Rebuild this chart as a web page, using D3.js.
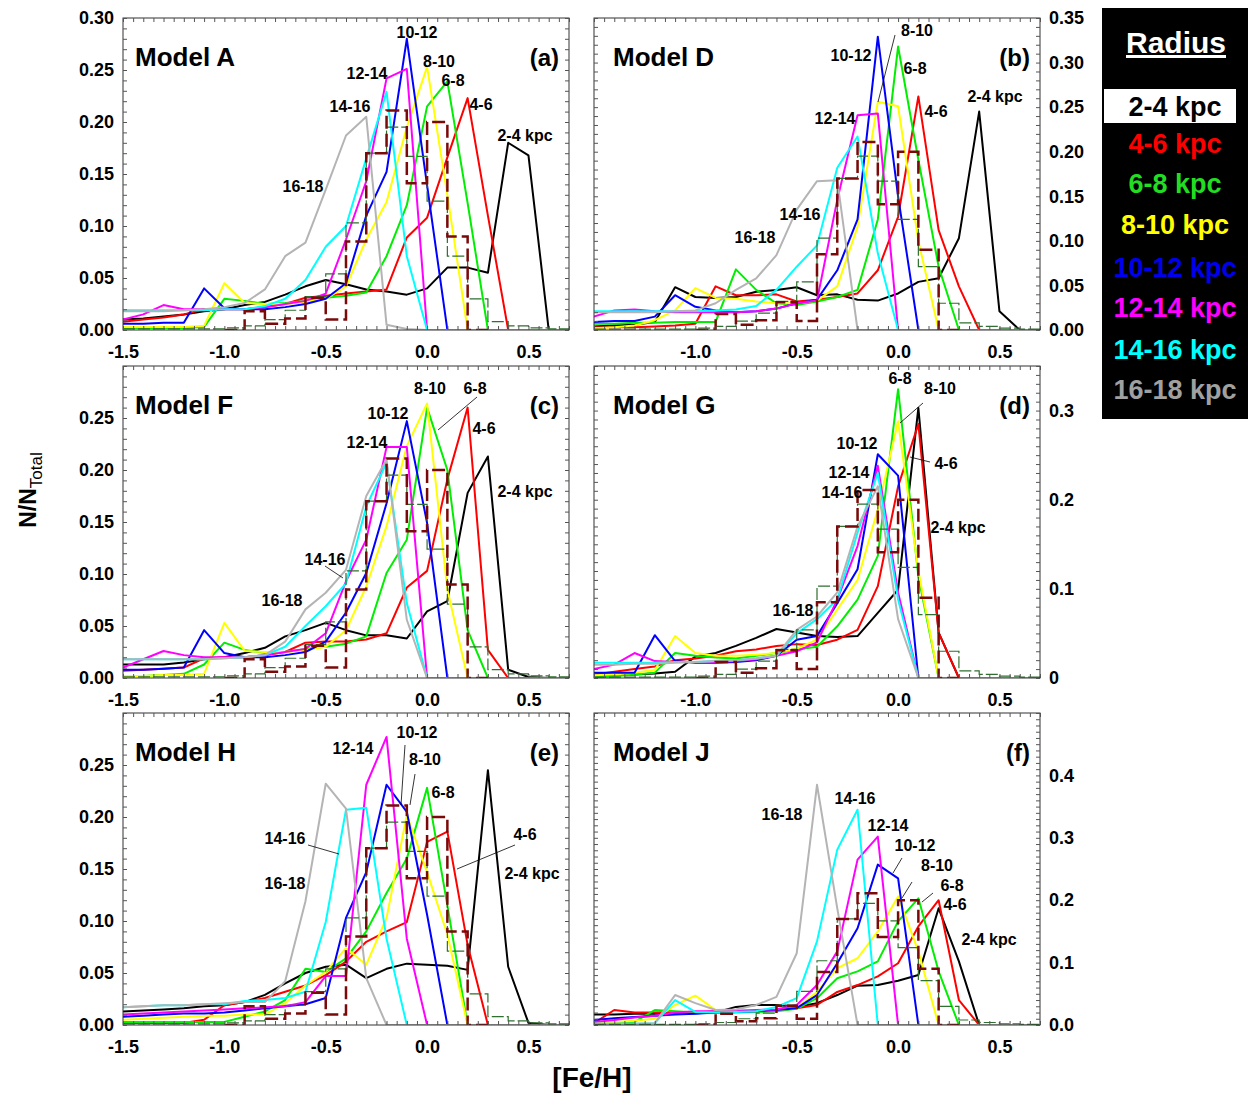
<!DOCTYPE html>
<html>
<head>
<meta charset="utf-8">
<script src="https://cdn.jsdelivr.net/npm/d3@7"></script>
<style>
  body { margin: 0; background: #fff; }
  text { font-family: "Liberation Sans", Arial, sans-serif; font-weight: bold; }
</style>
</head>
<body>
<svg id="chart" width="1249" height="1098"></svg>
<script>
// [Fe/H] grid of the model curves
var feh = [-1.5,-1.4,-1.3,-1.2,-1.1,-1.0,-0.9,-0.8,-0.7,-0.6,-0.5,-0.4,-0.3,-0.2,-0.1,0.0,0.1,0.2,0.3,0.4,0.5,0.6,0.7];
var radii = ["2-4 kpc","4-6 kpc","6-8 kpc","8-10 kpc","10-12 kpc","12-14 kpc","14-16 kpc","16-18 kpc"];
var colors = ["#000000","#ff0000","#00ee00","#ffff00","#0000ff","#ff00ff","#00ffff","#b4b4b4"];

// one row per radius bin, same order as radii
var modelA = [
  [0.010,0.011,0.013,0.015,0.018,0.020,0.024,0.027,0.034,0.042,0.048,0.044,0.039,0.037,0.034,0.040,0.060,0.060,0.055,0.180,0.168,0,0],
  [0.008,0.010,0.012,0.015,0.020,0.020,0.020,0.022,0.025,0.031,0.033,0.035,0.037,0.039,0.089,0.108,0.166,0.223,0.110,0,0,0,0],
  [0.002,0.002,0.002,0.002,0.003,0.030,0.028,0.025,0.026,0.028,0.031,0.033,0.036,0.071,0.120,0.215,0.239,0.122,0,0,0,0,0],
  [0.003,0.003,0.003,0.003,0.004,0.045,0.026,0.025,0.025,0.027,0.030,0.042,0.087,0.123,0.195,0.253,0.130,0,0,0,0,0,0],
  [0.006,0.006,0.007,0.007,0.040,0.021,0.020,0.020,0.022,0.025,0.030,0.045,0.110,0.152,0.280,0.139,0,0,0,0,0,0,0],
  [0.010,0.015,0.024,0.020,0.020,0.020,0.020,0.022,0.025,0.028,0.035,0.087,0.143,0.242,0.251,0,0,0,0,0,0,0,0],
  [0.019,0.019,0.019,0.019,0.019,0.020,0.020,0.023,0.030,0.048,0.080,0.100,0.165,0.229,0.071,0,0,0,0,0,0,0,0],
  [0.018,0.018,0.018,0.019,0.020,0.022,0.026,0.039,0.071,0.084,0.135,0.187,0.205,0.005,0.001,0,0,0,0,0,0,0,0]
];
var modelD = [
  [0.004,0.005,0.006,0.009,0.048,0.037,0.036,0.037,0.043,0.045,0.048,0.039,0.040,0.034,0.033,0.041,0.054,0.058,0.103,0.245,0.021,0,0],
  [0.003,0.003,0.003,0.004,0.005,0.007,0.049,0.039,0.039,0.040,0.032,0.034,0.037,0.041,0.067,0.127,0.262,0.112,0.049,0,0,0,0],
  [0.007,0.007,0.008,0.008,0.009,0.009,0.009,0.068,0.045,0.030,0.028,0.032,0.037,0.045,0.124,0.318,0.191,0.071,0,0,0,0,0],
  [0.002,0.003,0.005,0.011,0.022,0.047,0.036,0.035,0.032,0.030,0.030,0.033,0.049,0.116,0.256,0.251,0.100,0,0,0,0,0,0],
  [0.009,0.010,0.010,0.015,0.039,0.026,0.022,0.020,0.021,0.024,0.030,0.034,0.067,0.124,0.329,0.150,0,0,0,0,0,0,0],
  [0.015,0.022,0.023,0.021,0.020,0.020,0.020,0.020,0.021,0.024,0.030,0.033,0.146,0.241,0.243,0,0,0,0,0,0,0,0],
  [0.021,0.021,0.021,0.021,0.021,0.021,0.022,0.023,0.027,0.045,0.071,0.095,0.182,0.217,0.086,0,0,0,0,0,0,0,0],
  [0.020,0.020,0.020,0.020,0.021,0.022,0.030,0.045,0.058,0.084,0.135,0.167,0.168,0,0,0,0,0,0,0,0,0,0]
];
var modelF = [
  [0.013,0.013,0.013,0.015,0.018,0.020,0.024,0.029,0.040,0.046,0.053,0.046,0.041,0.041,0.038,0.064,0.074,0.178,0.213,0.008,0.001,0,0],
  [0.007,0.008,0.009,0.010,0.019,0.020,0.020,0.022,0.025,0.034,0.035,0.035,0.037,0.043,0.087,0.103,0.191,0.260,0.027,0,0,0,0],
  [0.002,0.002,0.003,0.004,0.013,0.034,0.027,0.024,0.025,0.028,0.030,0.033,0.040,0.101,0.133,0.260,0.200,0.046,0,0,0,0,0],
  [0.002,0.002,0.003,0.003,0.004,0.053,0.026,0.025,0.025,0.027,0.030,0.046,0.088,0.146,0.223,0.264,0.085,0,0,0,0,0,0],
  [0.008,0.008,0.009,0.010,0.046,0.024,0.020,0.020,0.022,0.025,0.035,0.063,0.101,0.168,0.247,0.149,0,0,0,0,0,0,0],
  [0.010,0.018,0.026,0.022,0.020,0.020,0.020,0.022,0.025,0.028,0.043,0.093,0.133,0.222,0.222,0,0,0,0,0,0,0,0],
  [0.018,0.018,0.018,0.018,0.018,0.019,0.020,0.022,0.030,0.050,0.069,0.091,0.165,0.207,0.072,0,0,0,0,0,0,0,0],
  [0.018,0.018,0.018,0.018,0.018,0.019,0.020,0.022,0.035,0.066,0.082,0.104,0.175,0.210,0.056,0,0,0,0,0,0,0,0]
];
var modelG = [
  [0.002,0.003,0.004,0.005,0.007,0.024,0.028,0.036,0.045,0.055,0.051,0.047,0.046,0.047,0.073,0.099,0.303,0.051,0,0,0,0,0],
  [0.004,0.007,0.010,0.013,0.020,0.022,0.025,0.030,0.032,0.036,0.038,0.037,0.043,0.054,0.103,0.215,0.285,0.051,0,0,0,0,0],
  [0.001,0.002,0.004,0.006,0.028,0.025,0.023,0.022,0.025,0.028,0.032,0.035,0.058,0.088,0.137,0.324,0.114,0,0,0,0,0,0],
  [0.003,0.004,0.006,0.009,0.047,0.028,0.025,0.025,0.026,0.028,0.033,0.043,0.077,0.110,0.189,0.288,0.120,0,0,0,0,0,0],
  [0.006,0.006,0.006,0.048,0.019,0.017,0.017,0.018,0.020,0.025,0.043,0.047,0.084,0.122,0.251,0.227,0,0,0,0,0,0,0],
  [0.010,0.015,0.028,0.019,0.018,0.018,0.018,0.019,0.021,0.025,0.030,0.040,0.088,0.148,0.238,0.096,0,0,0,0,0,0,0],
  [0.017,0.017,0.017,0.017,0.018,0.018,0.019,0.020,0.022,0.025,0.050,0.066,0.088,0.163,0.230,0.088,0,0,0,0,0,0,0],
  [0.015,0.015,0.016,0.016,0.017,0.018,0.019,0.020,0.022,0.025,0.054,0.069,0.096,0.170,0.215,0.066,0,0,0,0,0,0,0]
];
var modelH = [
  [0.013,0.014,0.015,0.016,0.018,0.019,0.022,0.029,0.040,0.050,0.056,0.058,0.045,0.054,0.059,0.058,0.057,0.053,0.245,0.056,0.002,0,0],
  [0.002,0.002,0.002,0.002,0.005,0.019,0.022,0.026,0.032,0.038,0.048,0.061,0.080,0.090,0.099,0.176,0.186,0.077,0,0,0,0,0],
  [0.003,0.003,0.003,0.003,0.003,0.003,0.008,0.013,0.024,0.054,0.051,0.064,0.090,0.127,0.160,0.228,0.115,0,0,0,0,0,0],
  [0.005,0.006,0.007,0.008,0.009,0.009,0.010,0.010,0.021,0.038,0.051,0.074,0.058,0.103,0.202,0.147,0.087,0,0,0,0,0,0],
  [0.008,0.009,0.010,0.011,0.011,0.012,0.014,0.016,0.018,0.020,0.026,0.103,0.147,0.231,0.205,0.106,0,0,0,0,0,0,0],
  [0.010,0.011,0.012,0.013,0.014,0.015,0.016,0.017,0.018,0.022,0.047,0.047,0.231,0.277,0.083,0,0,0,0,0,0,0,0],
  [0.017,0.018,0.019,0.019,0.020,0.020,0.023,0.024,0.026,0.032,0.099,0.207,0.209,0.083,0,0,0,0,0,0,0,0,0],
  [0.017,0.018,0.019,0.019,0.020,0.021,0.022,0.022,0.042,0.119,0.232,0.208,0.045,0,0,0,0,0,0,0,0,0,0]
];
var modelJ = [
  [0.017,0.017,0.018,0.018,0.019,0.019,0.020,0.029,0.032,0.032,0.029,0.035,0.048,0.063,0.064,0.071,0.080,0.187,0.102,0,0,0,0],
  [0.003,0.024,0.020,0.020,0.021,0.020,0.022,0.022,0.023,0.024,0.027,0.032,0.053,0.064,0.078,0.099,0.158,0.200,0.040,0,0,0,0],
  [0.003,0.004,0.005,0.024,0.022,0.020,0.020,0.020,0.021,0.022,0.026,0.043,0.075,0.086,0.102,0.166,0.203,0.086,0,0,0,0,0],
  [0.003,0.005,0.007,0.010,0.032,0.047,0.024,0.022,0.022,0.024,0.027,0.053,0.091,0.107,0.150,0.206,0.118,0,0,0,0,0,0],
  [0.008,0.011,0.013,0.015,0.017,0.018,0.020,0.021,0.022,0.024,0.027,0.048,0.099,0.155,0.257,0.235,0,0,0,0,0,0,0],
  [0.005,0.008,0.012,0.015,0.020,0.022,0.022,0.023,0.024,0.025,0.032,0.064,0.118,0.265,0.302,0,0,0,0,0,0,0,0],
  [0.002,0.002,0.002,0.003,0.040,0.021,0.020,0.021,0.022,0.029,0.043,0.134,0.281,0.345,0,0,0,0,0,0,0,0,0],
  [0.002,0.002,0.002,0.003,0.048,0.035,0.024,0.025,0.032,0.045,0.115,0.385,0.187,0,0,0,0,0,0,0,0,0,0]
];

// observed histograms (lower bin edges, width 0.1)
var obsEdgesA = [-1.0,-0.9,-0.8,-0.7,-0.6,-0.5,-0.4,-0.3,-0.2,-0.1,0.0,0.1,0.2];
var obsValsA  = [0,0.018,0.006,0.011,0.031,0.010,0.085,0.170,0.211,0.141,0.200,0.090,0];
var obsEdgesB = [-1.5,-1.4,-1.3,-1.2,-1.1,-1.0,-0.9,-0.8,-0.7,-0.6,-0.5,-0.4,-0.3,-0.2,-0.1,0.0,0.1,0.2,0.3,0.4,0.5,0.6];
var obsValsB  = [0.001,0.001,0.001,0.001,0.001,0.002,0.004,0.010,0.019,0.032,0.054,0.103,0.170,0.195,0.167,0.124,0.071,0.030,0.008,0.004,0.002,0.001];

// axis ticks
var xTicksFull = [-1.5,-1.0,-0.5,0.0,0.5];
var xTicksShort = [-1.0,-0.5,0.0,0.5];
var yTicks30 = [0,0.05,0.10,0.15,0.20,0.25,0.30];
var yTicks25 = [0,0.05,0.10,0.15,0.20,0.25];
var yTicks35 = [0,0.05,0.10,0.15,0.20,0.25,0.30,0.35];
var yTicksG = [0,0.1,0.2,0.3], yLabelsG = ["0","0.1","0.2","0.3"];
var yTicksJ = [0,0.1,0.2,0.3,0.4], yLabelsJ = ["0.0","0.1","0.2","0.3","0.4"];

var f2 = function(d){ return d.toFixed(2); };
var panels = [
  {data: modelA, title: "Model A", tag: "(a)", left: 123, top: 18, ymax: 0.30, side: "left",
   yt: yTicks30, yl: yTicks30.map(f2), xt: xTicksFull,
   labels: [["10-12",417,32],["12-14",367,73],["8-10",439,61],["6-8",453,80],["14-16",350,106],["4-6",481,104],["2-4 kpc",525,135],["16-18",303,186]],
   leaders: []},
  {data: modelD, title: "Model D", tag: "(b)", left: 594, top: 18, ymax: 0.35, side: "right",
   yt: yTicks35, yl: yTicks35.map(f2), xt: xTicksShort,
   labels: [["8-10",917,30],["10-12",851,55],["6-8",915,68],["2-4 kpc",995,96],["4-6",936,111],["12-14",835,118],["14-16",800,214],["16-18",755,237]],
   leaders: [[895,35,878,102]]},
  {data: modelF, title: "Model F", tag: "(c)", left: 123, top: 366, ymax: 0.30, side: "left",
   yt: yTicks25, yl: yTicks25.map(f2), xt: xTicksFull,
   labels: [["8-10",430,388],["6-8",475,388],["10-12",388,413],["4-6",484,428],["12-14",367,442],["2-4 kpc",525,491],["14-16",325,559],["16-18",282,600]],
   leaders: [[477,397,438,430],[325,566,343,578]]},
  {data: modelG, title: "Model G", tag: "(d)", left: 594, top: 366, ymax: 0.35, side: "right",
   yt: yTicksG, yl: yLabelsG, xt: xTicksShort,
   labels: [["6-8",900,378],["8-10",940,388],["10-12",857,443],["4-6",946,463],["12-14",849,472],["14-16",842,492],["2-4 kpc",958,527],["16-18",793,610]],
   leaders: [[923,403,900,423],[930,462,910,457]]},
  {data: modelH, title: "Model H", tag: "(e)", left: 123, top: 713, ymax: 0.30, side: "left",
   yt: yTicks25, yl: yTicks25.map(f2), xt: xTicksFull,
   labels: [["10-12",417,732],["12-14",353,748],["8-10",425,759],["6-8",443,792],["4-6",525,834],["14-16",285,838],["2-4 kpc",532,873],["16-18",285,883]],
   leaders: [[405,745,401,805],[415,774,410,805],[515,845,457,869],[308,845,339,854]]},
  {data: modelJ, title: "Model J", tag: "(f)", left: 594, top: 713, ymax: 0.50, side: "right",
   yt: yTicksJ, yl: yLabelsJ, xt: xTicksShort,
   labels: [["14-16",855,798],["16-18",782,814],["12-14",888,825],["10-12",915,845],["8-10",937,865],["6-8",952,885],["4-6",955,904],["2-4 kpc",989,939]],
   leaders: [[902,858,893,873],[912,882,902,898],[933,893,922,902]]}
];

var W = 446, H = 312;
var svg = d3.select("#chart");

panels.forEach(function(p, pi) {
  var x = d3.scaleLinear().domain([-1.5, 0.7]).range([p.left, p.left + W]);
  var y = d3.scaleLinear().domain([0, p.ymax]).range([p.top + H, p.top]);
  var g = svg.append("g");

  g.append("clipPath").attr("id", "clip" + pi)
    .append("rect").attr("x", p.left).attr("y", p.top).attr("width", W).attr("height", H);

  var plot = g.append("g").attr("clip-path", "url(#clip" + pi + ")");

  var line = d3.line().x(function(d, i){ return x(feh[i]); }).y(function(d){ return y(d); });
  p.data.forEach(function(vals, k) {
    plot.append("path").attr("d", line(vals))
      .attr("fill", "none").attr("stroke", colors[k]).attr("stroke-width", 2)
      .attr("stroke-linejoin", "round");
  });

  // histograms
  var step = d3.line().curve(d3.curveStepAfter)
    .x(function(d){ return x(d[0]); }).y(function(d){ return y(d[1]); });
  var ptsB = obsEdgesB.map(function(e, i){ return [e, obsValsB[i]]; });
  ptsB.push([obsEdgesB[obsEdgesB.length - 1] + 0.1, obsValsB[obsValsB.length - 1]]);
  plot.append("path").attr("d", step(ptsB)).attr("fill", "none")
    .attr("stroke", "#2f6f2f").attr("stroke-width", 1.2).attr("stroke-dasharray", "12,3");
  var ptsA = obsEdgesA.map(function(e, i){ return [e, obsValsA[i]]; });
  ptsA.push([obsEdgesA[obsEdgesA.length - 1] + 0.1, obsValsA[obsValsA.length - 1]]);
  plot.append("path").attr("d", step(ptsA)).attr("fill", "none")
    .attr("stroke", "#7a0a0a").attr("stroke-width", 2.5).attr("stroke-dasharray", "13,5");

  // frame
  g.append("rect").attr("x", p.left).attr("y", p.top).attr("width", W).attr("height", H)
    .attr("fill", "none").attr("stroke", "#333").attr("stroke-width", 1);

  // minor ticks, pointing inward
  var xm = d3.range(-1.5, 0.7001, 0.05);
  var ym = d3.range(0, p.ymax + 0.0001, 0.01);
  g.append("g").attr("transform", "translate(0," + (p.top + H) + ")")
    .call(d3.axisBottom(x).tickValues(xm).tickSize(-4).tickFormat(""))
    .call(function(a){ a.select(".domain").remove(); a.selectAll("line").attr("stroke", "#555"); });
  g.append("g").attr("transform", "translate(0," + p.top + ")")
    .call(d3.axisTop(x).tickValues(xm).tickSize(-4).tickFormat(""))
    .call(function(a){ a.select(".domain").remove(); a.selectAll("line").attr("stroke", "#555"); });
  g.append("g").attr("transform", "translate(" + p.left + ",0)")
    .call(d3.axisLeft(y).tickValues(ym).tickSize(-4).tickFormat(""))
    .call(function(a){ a.select(".domain").remove(); a.selectAll("line").attr("stroke", "#555"); });
  g.append("g").attr("transform", "translate(" + (p.left + W) + ",0)")
    .call(d3.axisRight(y).tickValues(ym).tickSize(-4).tickFormat(""))
    .call(function(a){ a.select(".domain").remove(); a.selectAll("line").attr("stroke", "#555"); });

  // x tick labels
  g.append("g").attr("transform", "translate(0," + (p.top + H) + ")")
    .call(d3.axisBottom(x).tickValues(p.xt).tickSize(0).tickPadding(15)
      .tickFormat(function(d){ return d.toFixed(1); }))
    .call(function(a){
      a.select(".domain").remove();
      a.selectAll("text").attr("font-size", 18).attr("fill", "#000")
        .attr("font-family", "'Liberation Sans', Arial, sans-serif").attr("font-weight", "bold");
    });

  // y tick labels
  var yAxis = (p.side === "left" ? d3.axisLeft(y) : d3.axisRight(y))
    .tickValues(p.yt).tickSize(0).tickPadding(9)
    .tickFormat(function(d, i){ return p.yl[i]; });
  g.append("g").attr("transform", "translate(" + (p.side === "left" ? p.left : p.left + W) + ",0)")
    .call(yAxis)
    .call(function(a){
      a.select(".domain").remove();
      a.selectAll("text").attr("font-size", 18).attr("fill", "#000")
        .attr("font-family", "'Liberation Sans', Arial, sans-serif").attr("font-weight", "bold");
    });

  // titles
  g.append("text").attr("x", p.left + (p.side === "left" ? 12 : 19)).attr("y", p.top + 48)
    .attr("font-size", 26).text(p.title);
  g.append("text").attr("x", p.left + W - 10).attr("y", p.top + 48)
    .attr("text-anchor", "end").attr("font-size", 24).text(p.tag);

  // curve labels and leader lines
  p.leaders.forEach(function(l) {
    g.append("line").attr("x1", l[0]).attr("y1", l[1]).attr("x2", l[2]).attr("y2", l[3])
      .attr("stroke", "#000").attr("stroke-width", 0.8);
  });
  p.labels.forEach(function(l) {
    g.append("text").attr("x", l[1]).attr("y", l[2]).attr("dy", "0.36em")
      .attr("text-anchor", "middle").attr("font-size", 16).text(l[0]);
  });
});

// axis titles
var yt = svg.append("text").attr("transform", "translate(36,490) rotate(-90)")
  .attr("text-anchor", "middle");
yt.append("tspan").attr("font-size", 23).text("N/N");
yt.append("tspan").attr("font-size", 17).attr("font-weight", "normal").attr("dy", 6).text("Total");

svg.append("text").attr("x", 592).attr("y", 1087).attr("text-anchor", "middle")
  .attr("font-size", 28).text("[Fe/H]");

// legend
var lg = svg.append("g");
lg.append("rect").attr("x", 1102).attr("y", 8).attr("width", 146).attr("height", 411).attr("fill", "#000");
lg.append("text").attr("x", 1176).attr("y", 53).attr("text-anchor", "middle")
  .attr("font-size", 30).attr("fill", "#fff").attr("text-decoration", "underline").text("Radius");
lg.append("rect").attr("x", 1104).attr("y", 89).attr("width", 132).attr("height", 34).attr("fill", "#fff");
var legendY = [106,143,183,224,267,307,349,389];
var legendColors = ["#000000","#ff0000","#22dd22","#ffff00","#0000ee","#ff00ff","#00ffff","#a0a0a0"];
radii.forEach(function(r, i) {
  lg.append("text").attr("x", 1175).attr("y", legendY[i]).attr("dy", "0.36em")
    .attr("text-anchor", "middle").attr("font-size", 27).attr("fill", legendColors[i]).text(r);
});
</script>
</body>
</html>
